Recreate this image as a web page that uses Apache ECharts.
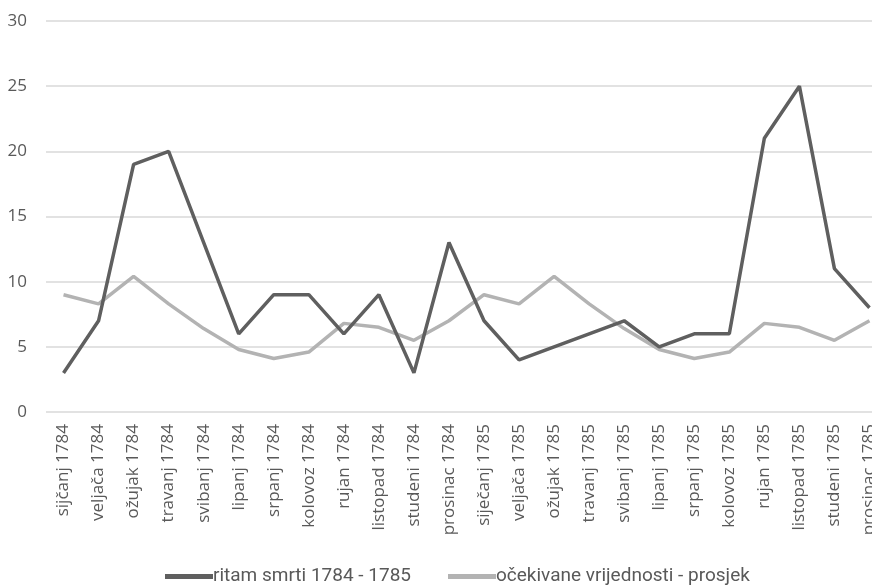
<!DOCTYPE html>
<html>
<head>
<meta charset="utf-8">
<script src="https://cdn.jsdelivr.net/npm/echarts@6/dist/echarts.min.js"></script>
<style>
  html, body { margin: 0; padding: 0; background: #fff; }
  #chart { width: 872px; height: 585px; }
</style>
</head>
<body>
<div id="chart"></div>
<script>
// mjeseci (kategorije na x osi)
var mjeseci = [
    'sijčanj 1784', 'veljača 1784', 'ožujak 1784', 'travanj 1784', 'svibanj 1784', 'lipanj 1784',
    'srpanj 1784', 'kolovoz 1784', 'rujan 1784', 'listopad 1784', 'studeni 1784', 'prosinac 1784',
    'siječanj 1785', 'veljača 1785', 'ožujak 1785', 'travanj 1785', 'svibanj 1785', 'lipanj 1785',
    'srpanj 1785', 'kolovoz 1785', 'rujan 1785', 'listopad 1785', 'studeni 1785', 'prosinac 1785'
];

// ritam smrti 1784 - 1785
var ritamSmrti = [3, 7, 19, 20, 13, 6, 9, 9, 6, 9, 3, 13, 7, 4, 5, 6, 7, 5, 6, 6, 21, 25, 11, 8];

// očekivane vrijednosti - prosjek
var prosjek = [9.0, 8.3, 10.4, 8.3, 6.4, 4.8, 4.1, 4.6, 6.8, 6.5, 5.5, 7.0,
               9.0, 8.3, 10.4, 8.3, 6.4, 4.8, 4.1, 4.6, 6.8, 6.5, 5.5, 7.0];

var yTicks = { min: 0, max: 30, interval: 5 };

var chart = echarts.init(document.getElementById('chart'));
chart.setOption({
    animation: false,
    textStyle: { fontFamily: 'Open Sans, sans-serif' },
    grid: { left: 46, top: 21, width: 841, height: 391, outerBoundsMode: 'none' },
    legend: {
        top: 562,
        left: 160,
        itemGap: 37,
        itemWidth: 48,
        itemHeight: 5,
        icon: 'rect',
        textStyle: {
            color: '#595959',
            fontSize: 19,
            fontFamily: 'Roboto, sans-serif',
            padding: [0, 0, 0, -5]
        },
        data: ['ritam smrti 1784 - 1785', 'očekivane vrijednosti - prosjek']
    },
    xAxis: {
        type: 'category',
        data: mjeseci,
        boundaryGap: true,
        axisLine: { show: false },
        axisTick: { show: false },
        axisLabel: {
            rotate: 90,
            interval: 0,
            margin: 12,
            color: '#595959',
            fontSize: 17,
            fontFamily: 'Open Sans, sans-serif',
            hideOverlap: false
        }
    },
    yAxis: {
        type: 'value',
        min: yTicks.min,
        max: yTicks.max,
        interval: yTicks.interval,
        axisLine: { show: false },
        axisTick: { show: false },
        axisLabel: { color: '#595959', fontSize: 17, margin: 19 },
        splitLine: { lineStyle: { color: '#d9d9d9', width: 1.5 } }
    },
    series: [{
        name: 'ritam smrti 1784 - 1785',
        type: 'line',
        data: ritamSmrti,
        symbol: 'none',
        color: '#5f5f5f',
        lineStyle: { width: 3.5, color: '#5f5f5f' },
        z: 3
    }, {
        name: 'očekivane vrijednosti - prosjek',
        type: 'line',
        data: prosjek,
        symbol: 'none',
        color: '#b3b3b3',
        lineStyle: { width: 3.5, color: '#b3b3b3' },
        z: 2
    }]
});
</script>
</body>
</html>
